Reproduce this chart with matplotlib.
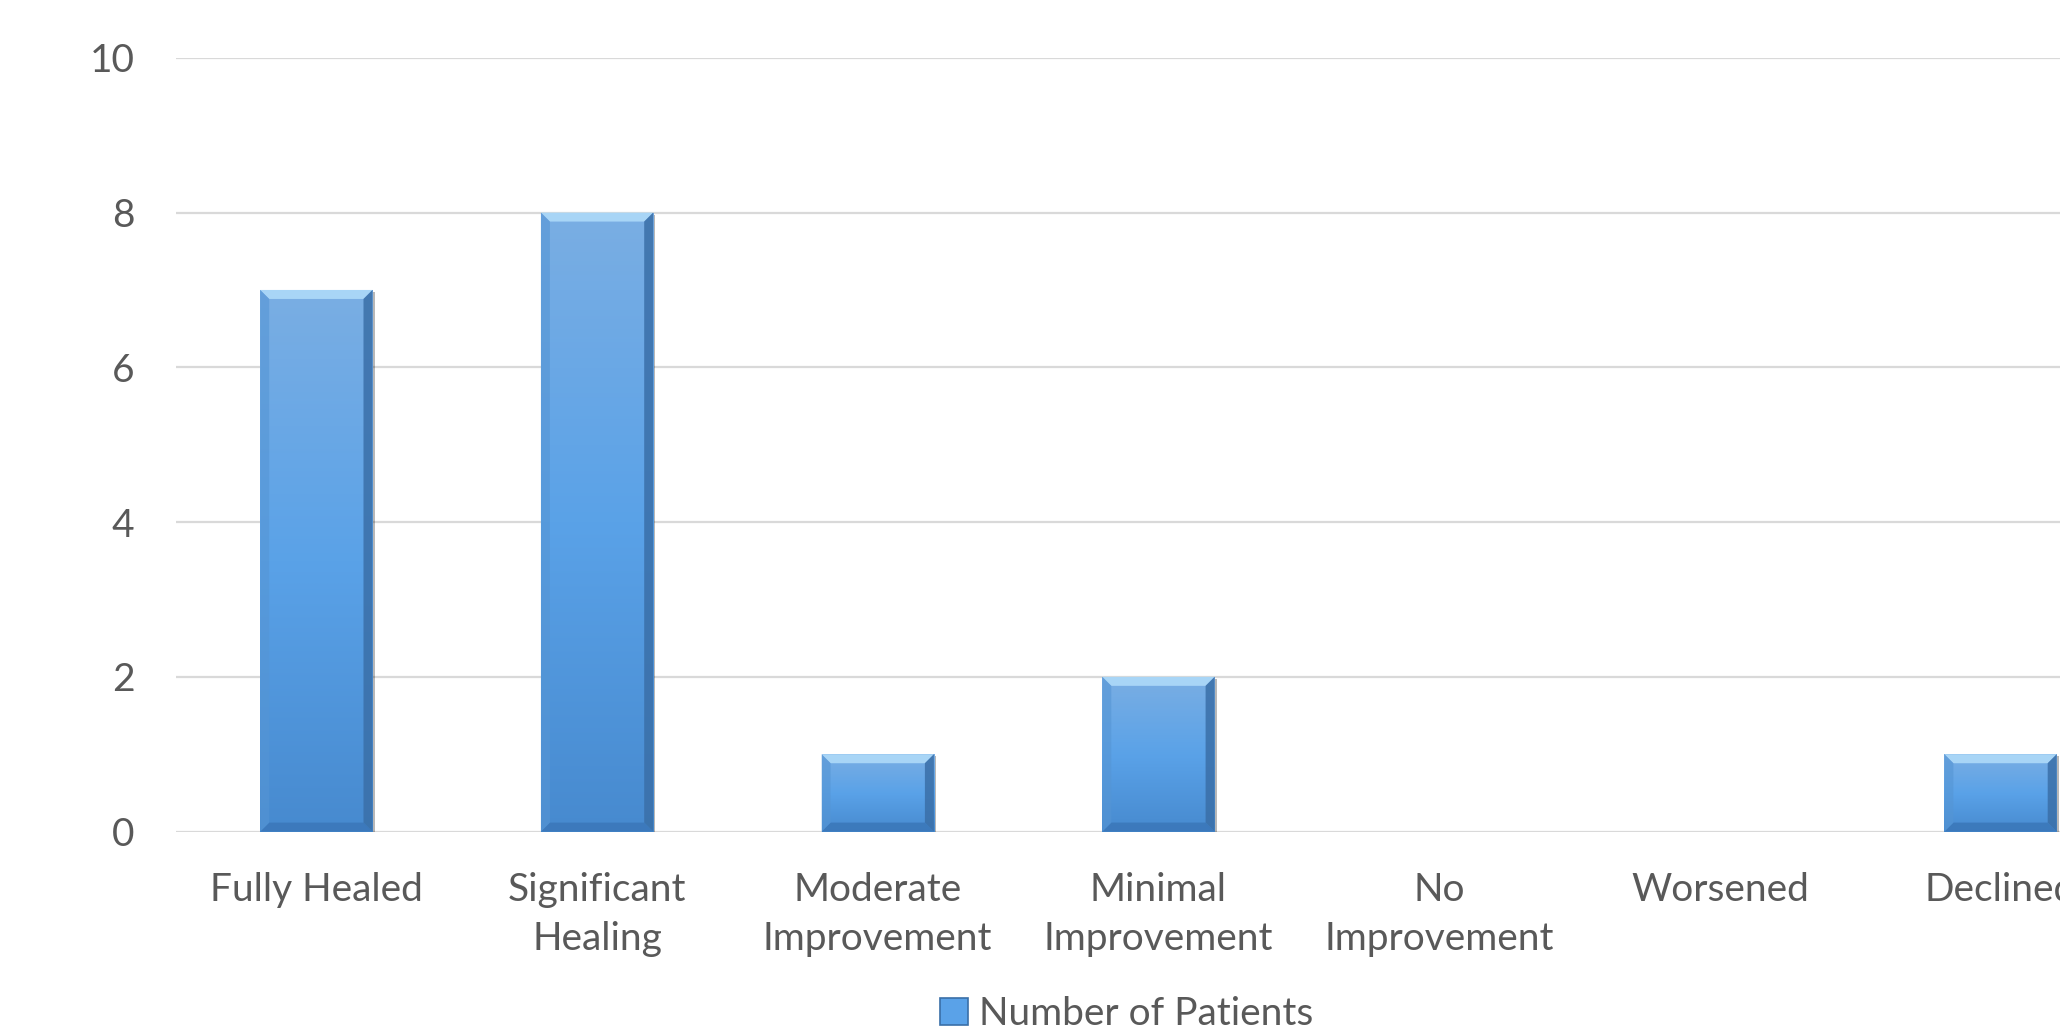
import numpy as np
import matplotlib
matplotlib.use("Agg")
import matplotlib.pyplot as plt
from matplotlib.patches import Polygon, Patch
from matplotlib.colors import LinearSegmentedColormap
import matplotlib.patheffects as pe

categories = ["Fully Healed", "Significant\nHealing", "Moderate\nImprovement",
              "Minimal\nImprovement", "No\nImprovement", "Worsened", "Declined"]
patients = [7, 8, 1, 2, 0, 0, 1]
y_ticks = [0, 2, 4, 6, 8, 10]
series_name = "Number of Patients"

TEXT = "#595959"
GRID = "#D9D9D9"
FONT = "Lato"
FS = 28

plt.rcParams["font.family"] = [FONT, "DejaVu Sans"]

W, H = 2060, 1030
fig = plt.figure(figsize=(W / 100, H / 100), dpi=100)
fig.patch.set_facecolor("white")

ax_left, ax_right_px = 176, 176 + 7 * 280.7
ax_top, ax_bot = 57.8, 831.6
ax = fig.add_axes([ax_left / W, 1 - ax_bot / H,
                   (ax_right_px - ax_left) / W, (ax_bot - ax_top) / H])
ax.set_xlim(-0.5, len(categories) - 0.5)
ax.set_ylim(0, 10)

for s in ax.spines.values():
    s.set_visible(False)
ax.set_yticks(y_ticks)
ax.yaxis.grid(True, color=GRID, linewidth=1.6)
ax.set_axisbelow(True)
ax.axhline(0, color=GRID, linewidth=2.0, zorder=1)
ax.tick_params(axis="y", length=0, pad=30, labelsize=FS, labelcolor=TEXT)
ax.tick_params(axis="x", length=0, pad=29, labelsize=FS, labelcolor=TEXT)
x = np.arange(len(categories))
ax.set_xticks(x)
ax.set_xticklabels(categories, linespacing=1.44)

bar_w = 0.40
bars = ax.bar(x, patients, width=bar_w, facecolor="#5BA2E7",
              edgecolor="none", zorder=2)

# vertical gradient used inside every bar
grad_cmap = LinearSegmentedColormap.from_list(
    "bar_grad", [(0.0, "#478ACF"), (0.5, "#5AA2E8"), (1.0, "#7AAEE3")])
grad = np.linspace(0, 1, 256).reshape(-1, 1)

# pixel-to-data scale for the bevel widths
fig.canvas.draw()
inv = ax.transData.inverted()
p0 = inv.transform((0, 0))
p1 = inv.transform((1, 1))
dx_px = p1[0] - p0[0]
dy_px = p1[1] - p0[1]
bev = 9

for rect, val in zip(bars, patients):
    if val <= 0:
        rect.set_visible(False)
        continue
    rect.set_path_effects([pe.SimplePatchShadow(offset=(1.5, -1.5),
                                                shadow_rgbFace="#000000",
                                                alpha=0.28),
                           pe.Normal()])
    x0 = rect.get_x()
    x1 = x0 + rect.get_width()
    h = rect.get_height()
    im = ax.imshow(grad, cmap=grad_cmap, origin="lower", aspect="auto",
                   extent=(x0, x1, 0, h), zorder=3, interpolation="bilinear")
    im.set_clip_path(rect)
    bx, by = bev * dx_px, bev * dy_px
    # top bevel (highlight)
    ax.add_patch(Polygon([(x0, h), (x1, h), (x1 - bx, h - by), (x0 + bx, h - by)],
                         closed=True, facecolor="#AEDAF9", edgecolor="none",
                         alpha=0.9, zorder=4))
    # bottom bevel (shade)
    ax.add_patch(Polygon([(x0, 0), (x1, 0), (x1 - bx, by), (x0 + bx, by)],
                         closed=True, facecolor="#3B78BA", edgecolor="none",
                         alpha=0.9, zorder=4))
    # left bevel
    ax.add_patch(Polygon([(x0, 0), (x0 + bx, by), (x0 + bx, h - by), (x0, h)],
                         closed=True, facecolor="#5595D4", edgecolor="none",
                         alpha=0.6, zorder=4))
    # right bevel
    ax.add_patch(Polygon([(x1, 0), (x1 - bx, by), (x1 - bx, h - by), (x1, h)],
                         closed=True, facecolor="#3A6FA8", edgecolor="none",
                         alpha=0.85, zorder=4))

handle = Patch(facecolor="#5AA2E8", edgecolor="#3A6FA8", linewidth=1.2)
fig.legend([handle], [series_name], loc="center",
           bbox_to_anchor=(1127 / W, 1 - 1014 / H), frameon=False,
           fontsize=FS, labelcolor=TEXT, handlelength=0.7, handleheight=0.7,
           handletextpad=0.3)

fig.savefig("out.png", dpi=100, facecolor="white")
